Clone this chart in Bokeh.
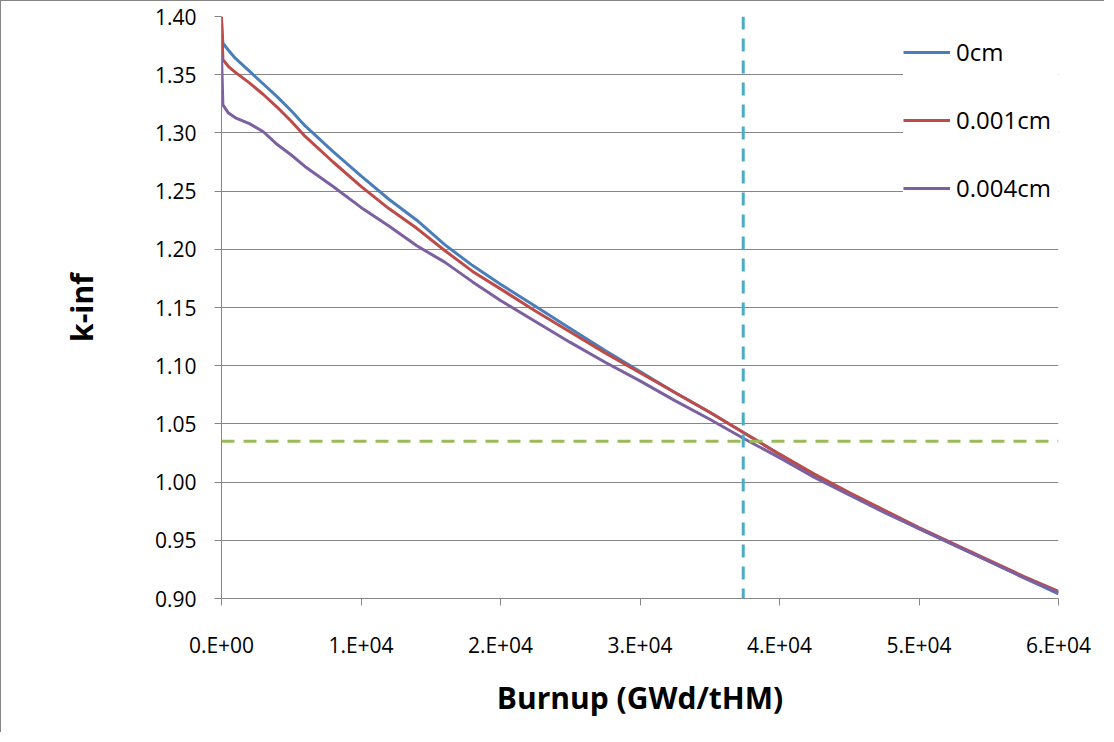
from bokeh.plotting import figure
from bokeh.models import Range1d, FixedTicker, NumeralTickFormatter, Span, Legend, LegendItem
from bokeh.embed import file_html
from bokeh.resources import INLINE

# ---- data ----
burnup = [0, 100, 500, 1000, 2000, 3000, 4000, 5000, 6000, 8000, 10000, 12000, 14000,
          16000, 18000, 20000, 22500, 25000, 27500, 30000, 32500, 35000, 37500, 40000,
          42500, 45000, 47500, 50000, 52500, 55000, 57500, 60000]
kinf_0cm = [1.395, 1.377, 1.371, 1.364, 1.353, 1.342, 1.331, 1.319, 1.306, 1.284, 1.263,
            1.243, 1.225, 1.204, 1.186, 1.170, 1.151, 1.132, 1.113, 1.095, 1.077, 1.060,
            1.042, 1.024, 1.006, 0.990, 0.975, 0.960, 0.946, 0.932, 0.918, 0.904]
kinf_0001cm = [1.400, 1.363, 1.357, 1.352, 1.343, 1.333, 1.322, 1.310, 1.297, 1.275, 1.254,
               1.235, 1.218, 1.199, 1.181, 1.166, 1.147, 1.129, 1.111, 1.094, 1.077, 1.060,
               1.042, 1.024, 1.007, 0.991, 0.976, 0.961, 0.947, 0.933, 0.919, 0.906]
kinf_0004cm = [1.367, 1.324, 1.317, 1.313, 1.308, 1.301, 1.290, 1.281, 1.271, 1.254, 1.236,
               1.220, 1.203, 1.189, 1.172, 1.156, 1.138, 1.120, 1.103, 1.087, 1.070, 1.054,
               1.037, 1.021, 1.004, 0.989, 0.974, 0.960, 0.946, 0.932, 0.918, 0.905]
series_names = ["0cm", "0.001cm", "0.004cm"]
series_colors = ["#4A7EBB", "#BE4B48", "#7D60A0"]

x_ticks = [0, 10000, 20000, 30000, 40000, 50000, 60000]
x_tick_labels = ["0.E+00", "1.E+04", "2.E+04", "3.E+04", "4.E+04", "5.E+04", "6.E+04"]
y_ticks = [0.90, 0.95, 1.00, 1.05, 1.10, 1.15, 1.20, 1.25, 1.30, 1.35, 1.40]

ref_burnup = 37400   # vertical dashed line
ref_kinf = 1.035     # horizontal dashed line

FONT = "Open Sans"
GRAY = "#868686"

p = figure(width=1104, height=732, output_backend="svg", toolbar_location=None,
           x_range=Range1d(0, 60000), y_range=Range1d(0.90, 1.40),
           min_border_left=220, min_border_right=47, min_border_top=15, min_border_bottom=135,
           styles={"border-left": "1px solid #868686", "border-top": "1px solid #868686"})
p.outline_line_color = None
p.background_fill_color = "white"
p.border_fill_color = "white"

# axes
p.xaxis.ticker = FixedTicker(ticks=x_ticks)
p.xaxis.major_label_overrides = {t: l for t, l in zip(x_ticks, x_tick_labels)}
p.yaxis.ticker = FixedTicker(ticks=y_ticks)
p.yaxis.formatter = NumeralTickFormatter(format="0.00")
for ax in (p.xaxis[0], p.yaxis[0]):
    ax.axis_line_color = GRAY
    ax.axis_line_width = 1
    ax.major_tick_line_color = GRAY
    ax.major_tick_in = 0
    ax.major_tick_out = 7
    ax.minor_tick_line_color = None
    ax.major_label_text_font = FONT
    ax.major_label_text_font_size = "21px"
    ax.major_label_text_color = "black"
    ax.axis_label_text_font = FONT
    ax.axis_label_text_font_style = "bold"
    ax.axis_label_text_font_size = "30px"
    ax.axis_label_text_color = "black"
p.xaxis.axis_label = "Burnup (GWd/tHM)"
p.yaxis.axis_label = "k-inf"
p.xaxis.major_label_standoff = 25
p.yaxis.major_label_standoff = 18
p.xaxis.axis_label_standoff = 15
p.yaxis.axis_label_standoff = 50

p.xgrid.grid_line_color = None
p.ygrid.grid_line_color = GRAY
p.ygrid.grid_line_width = 1

# reference lines
p.add_layout(Span(location=ref_burnup, dimension="height", line_color="#4BACC6",
                  line_width=3, line_dash="13 9"))
p.add_layout(Span(location=ref_kinf, dimension="width", line_color="#9BBB59",
                  line_width=3, line_dash="13 9"))

# series
renderers = []
for ys, name, col in zip([kinf_0cm, kinf_0001cm, kinf_0004cm], series_names, series_colors):
    r = p.line(burnup, ys, line_color=col, line_width=3)
    renderers.append(r)

legend = Legend(items=[LegendItem(label=n, renderers=[r]) for n, r in zip(series_names, renderers)],
                location=(682, 394))
legend.background_fill_color = "white"
legend.background_fill_alpha = 1
legend.border_line_color = None
legend.label_text_font = FONT
legend.label_text_font_size = "24px"
legend.label_text_color = "black"
legend.glyph_width = 47
legend.glyph_height = 30
legend.label_height = 30
legend.label_width = 110
legend.label_standoff = 6
legend.spacing = 35
legend.padding = 9
legend.margin = 0
p.add_layout(legend)

open("out.html", "w").write(file_html(p, INLINE))
